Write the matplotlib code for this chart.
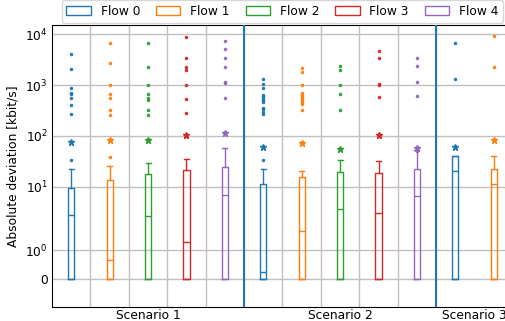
import numpy as np
import matplotlib
matplotlib.use('Agg')
import matplotlib.pyplot as plt
from matplotlib.patches import Patch
from matplotlib.ticker import NullLocator

# Data (kbit/s)
flows = ['Flow 0', 'Flow 1', 'Flow 2', 'Flow 3', 'Flow 4']
scenarios = ['Scenario 1', 'Scenario 2', 'Scenario 3']
flows_per_scenario = [5, 5, 2]

# one entry per box, scenario by scenario
q1 = [0, 0, 0, 0, 0,
      0, 0, 0, 0, 0,
      0, 0]
medians = [2.7, 0.66, 2.65, 1.3, 6.7,
           0.23, 1.7, 3.65, 3.0, 6.4,
           20.1, 11.3]
q3 = [9.3, 13.4, 17.3, 21.4, 24.8,
      11.3, 15.3, 19.8, 18.1, 22.1,
      40.3, 22.3]
whisker_hi = [22, 25, 29, 35.6, 57,
              22, 20.7, 34, 32.6, 53,
              40.3, 40.3]
means = [77, 83, 81, 103, 116,
         61, 72, 55, 103, 57,
         60, 82]
fliers = [
    [34, 266, 410, 550, 660, 690, 865, 2100, 4040],
    [39, 260, 320, 550, 670, 990, 2720, 6840],
    [260, 320, 510, 560, 660, 1000, 2300, 6800],
    [100, 278, 530, 1000, 1950, 2300, 3400, 8850],
    [550, 1080, 1150, 2300, 3400, 5070, 7200],
    [34, 270, 300, 330, 350, 470, 500, 540, 580, 620, 650, 865, 1050, 1300],
    [324, 420, 450, 480, 520, 560, 600, 650, 690, 1000, 1800, 2150],
    [324, 680, 1000, 2000, 2400],
    [100, 580, 1000, 1040, 3400, 4700],
    [50, 610, 1160, 2380, 3460],
    [1300, 6750],
    [2240, 9270],
]

yticks = [0, 1, 10, 100, 1000, 10000]
ytick_labels = ['0', '$10^0$', '$10^1$', '$10^2$', '$10^3$', '$10^4$']

colors = ['C0', 'C1', 'C2', 'C3', 'C4']
fs = 8.8


def main():
    fig = plt.figure(figsize=(5.06, 3.21), dpi=100)
    ax = fig.add_axes([0.1028, 0.0445, 0.911, 0.8767])

    i = 0
    label_pos = []
    for s, n in enumerate(flows_per_scenario):
        first = 5 * s + 1
        label_pos.append(first + (n - 1) / 2)
        for f in range(n):
            c = colors[f]
            stats = [dict(med=medians[i], q1=q1[i], q3=q3[i],
                          whislo=q1[i], whishi=whisker_hi[i],
                          mean=means[i], fliers=fliers[i])]
            ax.bxp(stats, positions=[first + f], widths=0.16,
                   capwidths=0.13, showmeans=True, manage_ticks=False,
                   boxprops=dict(color=c, linewidth=1),
                   medianprops=dict(color=c, linewidth=1),
                   whiskerprops=dict(color=c, linewidth=1),
                   capprops=dict(color=c, linewidth=1),
                   meanprops=dict(marker='*', markerfacecolor=c,
                                  markeredgecolor=c, markersize=5),
                   flierprops=dict(marker='o', markerfacecolor=c,
                                   markeredgecolor=c, markersize=2,
                                   markeredgewidth=0.5))
            i += 1

    # separators between scenarios
    for x in [5.5, 10.5]:
        ax.axvline(x, color='C0', linewidth=1.5, zorder=3)

    ax.set_yscale('symlog', linthresh=2, linscale=1)
    ax.set_ylim(-1, 15000)
    ax.set_xlim(0.5, 12.5)
    ax.set_yticks(yticks, ytick_labels)
    ax.yaxis.set_minor_locator(NullLocator())

    ax.set_xticks(label_pos, scenarios)
    ax.set_xticks(np.arange(1.5, 12.5, 1), minor=True)
    ax.tick_params(axis='x', which='both', length=0, pad=2, labelsize=fs)
    ax.tick_params(axis='y', which='both', length=0, pad=3, labelsize=fs)

    ax.grid(True, which='major', axis='y', color='#c0c0c0', linewidth=1)
    ax.grid(True, which='minor', axis='x', color='#c0c0c0', linewidth=1)
    ax.set_axisbelow(True)

    ax.set_ylabel('Absolute deviation [kbit/s]', fontsize=fs)

    handles = [Patch(facecolor='none', edgecolor=c) for c in colors]
    ax.legend(handles, flows, loc='lower center', bbox_to_anchor=(0.5, 1.0),
              ncol=5, fontsize=fs, columnspacing=1.3, borderaxespad=0.2)

    plt.savefig('out.png', dpi=100)


if __name__ == '__main__':
    main()
